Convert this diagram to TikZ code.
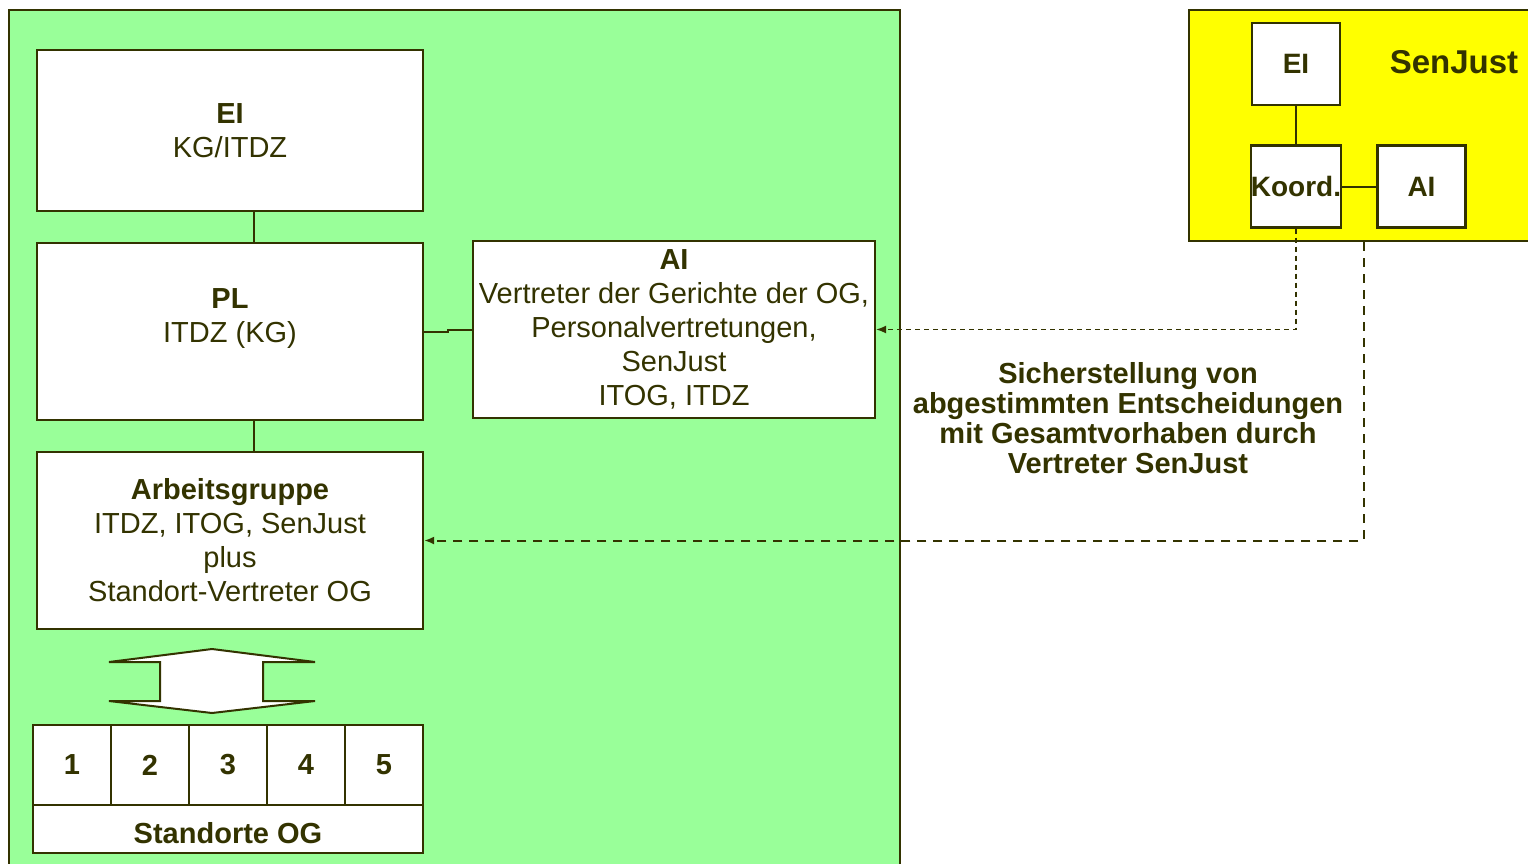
\documentclass[tikz,border=0pt]{standalone}
\usepackage{fontspec}
\setmainfont{Liberation Sans}
\usepackage{xcolor}
\usepackage{tikz}
\usetikzlibrary{positioning,calc,arrows.meta}
\definecolor{ink}{HTML}{333300}
\definecolor{paleg}{HTML}{99FF99}
\definecolor{sjyellow}{HTML}{FFFF00}

\begin{document}
\begin{tikzpicture}[
    x=1pt, y=-1pt,
    font=\fontsize{29}{34}\selectfont,
    every node/.style={text=ink},
    box/.style={rectangle, draw=ink, fill=white, line width=2.2pt, align=center, inner sep=0pt},
    small/.style={box, minimum width=88pt, minimum height=82pt, font=\fontsize{28}{34}\selectfont\bfseries},
    cell/.style={box, minimum width=78pt, minimum height=80pt, font=\fontsize{29}{34}\selectfont\bfseries},
    link/.style={draw=ink, line width=2pt},
    arrow/.style={->, >={Latex[length=10pt,width=8pt]}, draw=ink, line width=1.5pt, dash pattern=on 5pt off 4pt}
]
    \useasboundingbox (0,0) rectangle (1528,863);
    \draw[draw=ink, fill=paleg, line width=2pt] (9,10) rectangle (900,900);

    % SenJust
    \node[box, fill=sjyellow, minimum width=380pt, minimum height=231pt] (senjust) at (1379,125.5) {};
    \node[font=\fontsize{33}{40}\selectfont\bfseries] (sjlabel) at (1454,62) {SenJust};
    \node[small] (sjei) at (1296,64) {EI};
    \node[small] (koord) at (1296,186.5) {Koord.};
    \node[small] (sjai) at (1421.5,186.5) {AI};
    \draw[link] (sjei.south) -- (koord.north);
    \draw[link] (koord.east) -- (sjai.west);

    % Projekt
    \node[box, minimum width=386pt, minimum height=161pt] (ei) at (230,130.5) {\textbf{EI}\\KG/ITDZ};
    \node[box, minimum width=386pt, minimum height=177pt] (pl) at (230,331.5) {\textbf{PL}\\ITDZ (KG)\\[-12pt]\strut};
    \node[box, minimum width=386pt, minimum height=177pt] (ag) at (230,540.5) {\textbf{Arbeitsgruppe}\\ITDZ, ITOG, SenJust\\plus\\Standort-Vertreter OG};
    \node[box, minimum width=402pt, minimum height=177pt] (ai) at (674,329.5) {\textbf{AI}\\Vertreter der Gerichte der OG,\\Personalvertretungen,\\SenJust\\ITOG, ITDZ};

    \draw[link] ([xshift=24pt]ei.south) -- ([xshift=24pt]pl.north);
    \draw[link] ([xshift=24pt]pl.south) -- ([xshift=24pt]ag.north);
    \draw[link] (pl.east) -| ($(pl.east)!0.5!(ai.west)$) |- (ai.west);

    \coordinate (sjout) at ([xshift=176pt]senjust.south west);
    \draw[arrow] (koord.south) |- (ai.east);
    \draw[arrow, line width=2pt, dash pattern=on 9pt off 7pt] (sjout) |- (ag.east);

    \node[font=\fontsize{29}{30}\selectfont\bfseries, align=center] (note) at (1128,418) {Sicherstellung von\\abgestimmten Entscheidungen\\mit Gesamtvorhaben durch\\Vertreter SenJust};

    % Standorte
    \draw[draw=ink, fill=white, line width=2pt] (212,649) -- (315,662) -- (263,662) -- (263,701) -- (315,701)
        -- (212,713) -- (109,701) -- (160,701) -- (160,662) -- (109,662) -- cycle;
    \foreach \i in {1,...,5}
        \node[cell] (og\i) at ({33+78*\i-39},765) {\i};
    \node[box, minimum width=390pt, minimum height=48pt, text height=29pt, text depth=0pt, font=\fontsize{29}{34}\selectfont\bfseries] (standorte) at (228,829) {Standorte OG};
\end{tikzpicture}
\end{document}
